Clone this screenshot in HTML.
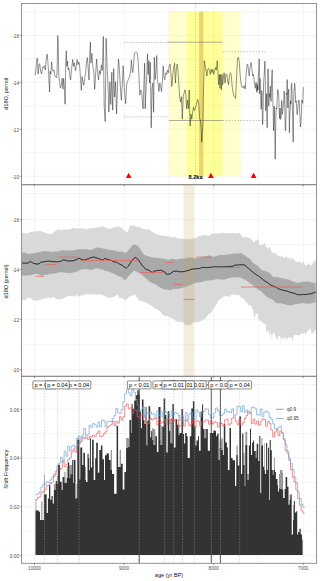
<!DOCTYPE html><html><head><meta charset="utf-8"><style>html,body{margin:0;padding:0;background:#fff;width:320px;height:581px;overflow:hidden}svg{display:block}</style></head><body><svg width="320" height="581" viewBox="0 0 320 581">
<rect width="320" height="581" fill="#fff"/>
<line x1="34.50" y1="3.5" x2="34.50" y2="184.7" stroke="#ececec" stroke-width="0.6"/>
<line x1="79.40" y1="3.5" x2="79.40" y2="184.7" stroke="#ececec" stroke-width="0.6"/>
<line x1="124.20" y1="3.5" x2="124.20" y2="184.7" stroke="#ececec" stroke-width="0.6"/>
<line x1="169.10" y1="3.5" x2="169.10" y2="184.7" stroke="#ececec" stroke-width="0.6"/>
<line x1="213.70" y1="3.5" x2="213.70" y2="184.7" stroke="#ececec" stroke-width="0.6"/>
<line x1="258.40" y1="3.5" x2="258.40" y2="184.7" stroke="#ececec" stroke-width="0.6"/>
<line x1="303.20" y1="3.5" x2="303.20" y2="184.7" stroke="#ececec" stroke-width="0.6"/>
<line x1="21.5" y1="11.70" x2="316.5" y2="11.70" stroke="#ececec" stroke-width="0.6"/>
<line x1="21.5" y1="35.50" x2="316.5" y2="35.50" stroke="#ececec" stroke-width="0.6"/>
<line x1="21.5" y1="58.95" x2="316.5" y2="58.95" stroke="#ececec" stroke-width="0.6"/>
<line x1="21.5" y1="82.40" x2="316.5" y2="82.40" stroke="#ececec" stroke-width="0.6"/>
<line x1="21.5" y1="105.85" x2="316.5" y2="105.85" stroke="#ececec" stroke-width="0.6"/>
<line x1="21.5" y1="129.30" x2="316.5" y2="129.30" stroke="#ececec" stroke-width="0.6"/>
<line x1="21.5" y1="152.75" x2="316.5" y2="152.75" stroke="#ececec" stroke-width="0.6"/>
<line x1="21.5" y1="176.20" x2="316.5" y2="176.20" stroke="#ececec" stroke-width="0.6"/>
<rect x="168.9" y="11.7" width="71.8" height="164.5" fill="#ffff00" fill-opacity="0.2"/>
<rect x="186.9" y="11.7" width="35.6" height="164.5" fill="#ffff00" fill-opacity="0.25"/>
<rect x="199.1" y="11.7" width="4.2" height="164.5" fill="#e8d468"/>
<line x1="195.6" y1="3.5" x2="195.6" y2="184.5" stroke="#aaa" stroke-width="0.5" stroke-dasharray="1.5,1.5"/>
<line x1="124.2" y1="42.5" x2="168.9" y2="42.5" stroke="#888" stroke-width="0.5" stroke-dasharray="1.5,1.5"/>
<line x1="124.2" y1="116.8" x2="168.9" y2="116.8" stroke="#888" stroke-width="0.5" stroke-dasharray="1.5,1.5"/>
<line x1="167.8" y1="42.2" x2="222.5" y2="42.2" stroke="#777" stroke-width="0.6"/>
<line x1="168.9" y1="120.5" x2="222.5" y2="120.5" stroke="#777" stroke-width="0.6"/>
<line x1="222.5" y1="51.75" x2="267" y2="51.75" stroke="#888" stroke-width="0.5" stroke-dasharray="1.5,1.5"/>
<line x1="222.5" y1="120.5" x2="267" y2="120.5" stroke="#888" stroke-width="0.5" stroke-dasharray="1.5,1.5"/>
<polyline fill="none" stroke="#111" stroke-width="0.45" stroke-linejoin="round" points="35.10,75.50 35.90,70.00 36.80,58.90 37.40,58.20 38.10,74.10 39.00,64.40 39.80,63.70 40.60,71.30 41.60,74.10 42.50,67.20 43.40,67.90 44.30,65.80 45.30,70.00 46.10,60.30 47.10,54.10 47.80,60.30 48.50,71.30 49.20,85.10 49.60,92.00 50.10,71.30 50.80,74.10 51.60,61.70 52.30,68.60 53.00,71.30 54.00,70.00 54.70,75.50 55.60,76.80 56.50,77.50 57.10,71.30 57.70,35.50 58.20,42.40 58.80,76.80 59.60,82.30 60.40,87.90 61.30,85.10 62.20,78.20 62.90,89.20 63.70,78.40 64.60,90.40 65.10,104.20 65.80,61.10 66.30,50.80 66.80,66.30 67.50,61.10 68.20,69.80 68.90,68.00 69.70,74.90 70.60,80.10 71.50,69.80 72.70,59.40 73.50,66.30 74.40,62.90 75.40,70.60 76.30,66.30 77.10,59.40 78.00,64.60 78.90,62.00 79.70,66.30 80.60,78.40 81.30,90.40 82.10,76.60 83.00,81.80 83.90,85.20 84.70,78.40 85.60,73.20 86.40,62.90 87.30,57.70 88.20,68.00 89.00,80.10 89.70,56.00 90.40,42.20 90.90,62.90 91.90,53.40 92.80,66.70 93.80,72.30 94.70,89.40 95.70,72.30 96.60,59.10 97.60,72.30 98.50,79.90 99.50,70.50 100.40,74.20 101.40,64.80 102.30,70.50 103.30,36.40 104.20,106.40 105.20,121.60 106.10,38.30 107.00,62.90 108.00,85.60 108.90,112.10 109.90,81.80 110.80,104.50 111.80,72.30 112.70,110.20 113.70,68.60 114.60,97.00 115.60,81.80 116.50,114.00 117.50,87.50 118.40,59.10 118.90,62.40 119.70,74.40 120.60,91.60 121.40,100.20 122.30,83.00 123.20,65.80 124.00,83.00 124.90,96.80 125.70,103.70 126.60,84.80 127.50,81.30 128.30,79.60 129.20,77.90 130.00,74.40 130.90,67.50 131.40,59.80 132.10,69.30 132.80,72.70 133.50,65.80 134.40,52.90 136.10,52.00 137.30,52.90 138.10,60.70 139.00,77.90 139.90,95.10 140.70,89.90 141.60,91.60 142.40,102.00 143.10,108.80 143.80,86.50 144.70,63.20 145.20,108.80 145.90,91.60 146.90,74.40 147.50,53.80 148.20,74.40 148.90,60.70 149.60,83.00 150.30,62.40 151.20,127.80 152.00,88.20 152.90,83.00 153.60,112.30 154.30,57.20 155.10,79.60 156.00,71.00 156.70,55.50 157.40,79.60 158.00,83.00 158.90,91.60 159.80,83.00 160.60,86.50 161.50,91.60 162.40,81.30 163.20,65.80 164.10,77.90 164.90,79.60 165.80,72.70 166.70,74.40 167.50,70.10 168.40,72.70 169.20,65.80 170.10,64.10 171.00,74.40 171.80,86.50 172.90,74.40 173.70,67.50 174.60,63.20 175.40,83.00 176.30,69.30 177.20,64.10 178.00,71.00 178.90,84.80 179.70,96.80 180.60,102.00 181.50,96.80 182.30,119.20 183.20,96.80 184.00,93.40 184.90,89.90 185.80,93.40 186.60,108.80 187.50,100.20 188.40,108.80 189.20,89.90 190.10,126.10 190.90,114.00 191.80,119.20 192.70,112.30 193.50,107.10 194.40,110.50 195.20,108.80 196.10,105.40 197.00,102.00 197.80,99.40 198.70,103.70 199.50,117.50 200.40,120.90 201.30,129.50 201.70,142.30 202.90,124.40 203.50,90.00 204.30,60.70 205.20,65.80 206.00,71.00 206.90,76.10 207.70,69.30 208.60,68.40 209.50,71.00 210.30,74.40 211.20,69.30 212.00,72.70 212.90,69.30 213.80,74.40 214.60,71.00 215.50,67.50 216.40,70.10 217.20,60.70 218.10,74.40 218.60,84.80 219.30,74.40 220.00,88.20 220.70,74.40 221.30,89.90 222.00,74.40 222.70,84.80 223.40,77.90 224.10,72.70 225.00,83.00 225.80,74.40 226.90,74.40 227.70,81.30 228.60,84.80 229.40,76.10 230.30,72.70 231.20,74.40 232.00,84.80 232.90,91.60 233.70,95.10 234.60,96.80 235.50,98.50 236.00,89.90 236.70,74.40 237.50,58.90 238.40,57.20 239.30,62.40 240.10,74.40 241.00,83.00 241.80,87.30 242.70,86.50 243.60,88.20 244.40,85.60 245.30,89.10 246.10,74.40 247.00,65.80 247.70,64.10 248.40,69.30 249.20,76.10 250.10,67.50 251.00,62.40 251.80,67.50 252.70,76.10 253.50,74.40 254.40,83.00 255.30,88.20 256.10,82.10 256.40,89.36 256.70,92.20 256.95,92.45 257.20,84.00 257.40,90.31 257.60,86.00 257.90,90.06 258.20,78.20 258.70,72.87 259.20,58.90 259.35,83.90 259.50,93.70 259.90,78.27 260.30,79.80 260.65,93.88 261.00,109.20 261.40,107.88 261.80,90.60 262.20,110.33 262.60,124.70 262.95,118.72 263.30,98.30 263.70,80.54 264.10,76.70 264.50,68.39 264.90,61.20 265.30,81.39 265.70,110.70 266.05,102.99 266.40,93.70 266.80,112.08 267.20,127.80 267.60,89.59 268.00,68.90 268.40,82.40 268.80,106.10 269.15,95.93 269.50,93.70 269.90,97.34 270.30,86.00 270.70,98.48 271.10,101.40 271.65,79.42 272.20,69.70 272.55,91.35 272.90,102.30 273.20,110.05 273.50,130.80 273.90,120.56 274.30,106.10 274.75,125.93 275.20,159.20 275.70,124.63 276.20,108.00 276.75,109.04 277.30,96.70 277.80,89.57 278.30,92.90 278.75,97.23 279.20,111.80 279.65,118.58 280.10,108.00 280.60,119.45 281.10,117.50 281.45,105.21 281.80,100.50 282.20,114.46 282.60,111.80 283.00,108.71 283.40,104.20 283.75,100.80 284.10,91.00 284.50,96.09 284.90,111.80 285.25,129.24 285.60,130.80 286.00,115.28 286.40,92.90 286.80,94.65 287.20,79.60 287.55,100.89 287.90,108.00 288.30,94.93 288.70,89.10 289.05,108.40 289.40,132.70 289.80,115.29 290.20,109.90 290.55,100.67 290.90,104.20 291.30,85.97 291.70,83.40 292.10,94.02 292.50,111.80 292.85,128.81 293.20,142.10 293.60,106.66 294.00,89.10 294.35,89.45 294.70,83.40 295.20,89.93 295.70,102.30 296.15,100.78 296.60,106.10 297.10,114.68 297.60,111.80 298.05,105.80 298.50,100.50 299.00,99.98 299.50,106.10 299.95,116.21 300.40,127.00 300.90,124.03 301.40,113.70 301.85,100.03 302.30,102.30 302.80,103.30 303.30,87.20"/>
<polygon points="128.7,172.75 125.8,177.9 131.6,177.9" fill="#ff0000"/>
<polygon points="210.9,172.75 208.0,177.9 213.8,177.9" fill="#ff0000"/>
<polygon points="253.6,172.75 250.7,177.9 256.5,177.9" fill="#ff0000"/>
<text x="195.5" y="179.3" font-family="Liberation Sans" font-weight="bold" font-size="5.6" text-anchor="middle" fill="#000">8.2ka</text>
<line x1="34.50" y1="184.7" x2="34.50" y2="376.3" stroke="#ececec" stroke-width="0.6"/>
<line x1="79.40" y1="184.7" x2="79.40" y2="376.3" stroke="#ececec" stroke-width="0.6"/>
<line x1="124.20" y1="184.7" x2="124.20" y2="376.3" stroke="#ececec" stroke-width="0.6"/>
<line x1="169.10" y1="184.7" x2="169.10" y2="376.3" stroke="#ececec" stroke-width="0.6"/>
<line x1="213.70" y1="184.7" x2="213.70" y2="376.3" stroke="#ececec" stroke-width="0.6"/>
<line x1="258.40" y1="184.7" x2="258.40" y2="376.3" stroke="#ececec" stroke-width="0.6"/>
<line x1="303.20" y1="184.7" x2="303.20" y2="376.3" stroke="#ececec" stroke-width="0.6"/>
<line x1="21.5" y1="193.50" x2="316.5" y2="193.50" stroke="#ececec" stroke-width="0.6"/>
<line x1="21.5" y1="219.60" x2="316.5" y2="219.60" stroke="#ececec" stroke-width="0.6"/>
<line x1="21.5" y1="244.62" x2="316.5" y2="244.62" stroke="#ececec" stroke-width="0.6"/>
<line x1="21.5" y1="269.64" x2="316.5" y2="269.64" stroke="#ececec" stroke-width="0.6"/>
<line x1="21.5" y1="294.66" x2="316.5" y2="294.66" stroke="#ececec" stroke-width="0.6"/>
<line x1="21.5" y1="319.68" x2="316.5" y2="319.68" stroke="#ececec" stroke-width="0.6"/>
<line x1="21.5" y1="344.70" x2="316.5" y2="344.70" stroke="#ececec" stroke-width="0.6"/>
<line x1="21.5" y1="369.72" x2="316.5" y2="369.72" stroke="#ececec" stroke-width="0.6"/>
<polygon points="22.0,233.3 22.7,233.1 23.4,232.5 24.1,233.0 24.8,232.8 25.5,233.4 26.2,233.6 26.9,233.6 27.6,233.3 28.3,233.2 29.0,232.8 29.7,232.2 30.4,232.1 31.1,232.1 31.8,231.6 32.5,231.5 33.2,231.7 33.9,231.4 34.6,231.8 35.3,231.4 36.0,231.2 36.7,231.2 37.4,231.2 38.1,231.2 38.8,231.3 39.5,231.1 40.2,230.9 40.9,231.2 41.6,230.9 42.3,231.8 43.0,232.1 43.7,232.3 44.4,232.3 45.1,232.7 45.8,233.0 46.5,232.8 47.2,233.4 47.9,233.7 48.6,233.6 49.3,233.8 50.0,234.6 50.7,234.1 51.4,233.8 52.1,233.7 52.8,233.0 53.5,232.2 54.2,232.3 54.9,231.4 55.6,230.6 56.3,230.7 57.0,229.8 57.7,229.5 58.4,229.7 59.1,229.7 59.8,229.4 60.5,230.0 61.2,230.0 61.9,229.9 62.6,229.6 63.3,229.7 64.0,229.2 64.7,229.4 65.4,229.4 66.1,229.9 66.8,229.2 67.5,229.8 68.2,229.3 68.9,229.6 69.6,229.4 70.3,229.2 71.0,229.2 71.7,228.7 72.4,228.3 73.1,228.0 73.8,227.9 74.5,228.5 75.2,228.3 75.9,228.6 76.6,228.5 77.3,228.0 78.0,228.6 78.7,228.8 79.4,228.7 80.1,228.5 80.8,228.4 81.5,228.5 82.2,228.8 82.9,228.4 83.6,228.6 84.3,228.5 85.0,229.0 85.7,229.0 86.4,229.2 87.1,229.2 87.8,228.7 88.5,228.5 89.2,228.6 89.9,228.3 90.6,228.3 91.3,228.3 92.0,228.4 92.7,228.0 93.4,228.1 94.1,227.5 94.8,227.7 95.5,228.1 96.2,227.4 96.9,227.6 97.6,227.2 98.3,227.0 99.0,227.4 99.7,227.2 100.4,226.8 101.1,226.2 101.8,226.3 102.5,226.1 103.2,226.7 103.9,227.0 104.6,227.2 105.3,227.5 106.0,227.5 106.7,228.2 107.4,228.8 108.1,229.0 108.8,228.4 109.5,228.6 110.2,228.7 110.9,228.1 111.6,228.4 112.3,227.8 113.0,227.8 113.7,227.3 114.4,227.6 115.1,227.2 115.8,226.9 116.5,226.5 117.2,226.7 117.9,226.3 118.6,226.7 119.3,226.9 120.0,226.7 120.7,227.4 121.4,227.9 122.1,228.3 122.8,229.0 123.5,229.7 124.2,229.9 124.9,230.2 125.6,231.5 126.3,231.9 127.0,232.8 127.7,231.3 128.4,229.9 129.1,228.5 129.8,226.6 130.5,225.5 131.2,225.2 131.9,225.5 132.6,225.8 133.3,225.6 134.0,225.2 134.7,225.8 135.4,226.5 136.1,226.8 136.8,226.7 137.5,226.9 138.2,226.3 138.9,227.2 139.6,227.2 140.3,227.4 141.0,228.0 141.7,228.3 142.4,228.0 143.1,228.9 143.8,229.2 144.5,229.1 145.2,229.6 145.9,229.4 146.6,229.0 147.3,229.5 148.0,228.9 148.7,229.3 149.4,229.7 150.1,230.1 150.8,230.9 151.5,231.4 152.2,231.7 152.9,232.7 153.6,232.4 154.3,232.7 155.0,233.5 155.7,234.0 156.4,234.1 157.1,234.4 157.8,234.4 158.5,234.8 159.2,234.7 159.9,234.9 160.6,235.4 161.3,235.2 162.0,235.4 162.7,236.0 163.4,235.5 164.1,236.0 164.8,236.0 165.5,235.7 166.2,235.9 166.9,236.2 167.6,236.6 168.3,236.3 169.0,236.6 169.7,237.1 170.4,237.4 171.1,237.2 171.8,236.9 172.5,237.3 173.2,237.5 173.9,237.0 174.6,237.1 175.3,237.2 176.0,237.5 176.7,238.1 177.4,237.9 178.1,238.4 178.8,238.4 179.5,238.6 180.2,239.0 180.9,238.3 181.6,238.9 182.3,238.5 183.0,238.8 183.7,239.0 184.4,239.0 185.1,238.9 185.8,239.4 186.5,238.8 187.2,239.2 187.9,239.0 188.6,239.1 189.3,239.3 190.0,239.3 190.7,239.1 191.4,238.6 192.1,238.4 192.8,238.4 193.5,238.1 194.2,238.0 194.9,238.4 195.6,237.6 196.3,237.9 197.0,237.2 197.7,236.9 198.4,236.5 199.1,236.0 199.8,236.1 200.5,235.7 201.2,235.7 201.9,235.4 202.6,235.6 203.3,235.4 204.0,234.9 204.7,234.9 205.4,235.4 206.1,235.2 206.8,235.3 207.5,235.6 208.2,235.8 208.9,236.1 209.6,235.3 210.3,234.7 211.0,234.4 211.7,233.3 212.4,233.7 213.1,233.5 213.8,233.2 214.5,233.5 215.2,233.1 215.9,233.7 216.6,233.8 217.3,233.5 218.0,233.5 218.7,233.6 219.4,233.2 220.1,233.1 220.8,233.0 221.5,232.9 222.2,232.8 222.9,233.1 223.6,232.7 224.3,233.1 225.0,233.3 225.7,233.1 226.4,233.1 227.1,232.9 227.8,233.5 228.5,233.0 229.2,233.1 229.9,233.5 230.6,232.9 231.3,233.5 232.0,232.9 232.7,232.8 233.4,233.1 234.1,233.1 234.8,233.6 235.5,233.5 236.2,233.4 236.9,233.1 237.6,233.2 238.3,232.9 239.0,233.4 239.7,233.0 240.4,233.5 241.1,234.9 241.8,235.4 242.5,236.6 243.2,238.3 243.9,237.2 244.6,237.0 245.3,236.8 246.0,236.6 246.7,237.1 247.4,237.4 248.1,238.0 248.8,238.3 249.5,238.8 250.2,236.5 250.9,239.8 251.6,240.8 252.3,238.6 253.0,242.3 253.7,242.3 254.4,242.3 255.1,240.0 255.8,240.8 256.5,240.4 257.2,238.3 257.9,241.1 258.6,239.4 259.3,244.8 260.0,245.3 260.7,245.3 261.4,243.9 262.1,245.7 262.8,242.1 263.5,246.3 264.2,242.6 264.9,243.0 265.6,246.8 266.3,247.1 267.0,247.3 267.7,248.1 268.4,247.5 269.1,249.5 269.8,246.6 270.5,246.9 271.2,251.8 271.9,252.1 272.6,252.6 273.3,253.9 274.0,253.5 274.7,252.2 275.4,254.8 276.1,251.6 276.8,254.9 277.5,255.4 278.2,256.1 278.9,255.6 279.6,256.0 280.3,256.5 281.0,256.5 281.7,255.2 282.4,257.2 283.1,256.7 283.8,257.6 284.5,257.3 285.2,256.8 285.9,257.7 286.6,254.5 287.3,258.1 288.0,258.6 288.7,257.0 289.4,259.2 290.1,258.6 290.8,258.5 291.5,259.0 292.2,258.6 292.9,257.2 293.6,259.5 294.3,260.5 295.0,260.5 295.7,261.7 296.4,262.0 297.1,261.9 297.8,261.9 298.5,261.9 299.2,261.7 299.9,262.0 300.6,262.3 301.3,262.7 302.0,263.1 302.7,263.3 303.4,260.0 304.1,262.7 304.8,265.1 305.5,265.1 306.2,265.2 306.9,265.9 307.6,263.7 308.3,262.8 309.0,263.9 309.7,265.1 310.4,265.0 311.1,264.9 311.8,264.7 312.5,264.3 313.2,259.7 313.9,262.7 314.6,262.1 315.3,259.5 316.0,261.2 316.0,330.3 315.3,329.8 314.6,330.1 313.9,332.7 313.2,333.7 312.5,331.9 311.8,334.0 311.1,331.2 310.4,328.8 309.7,328.6 309.0,331.3 308.3,329.2 307.6,329.9 306.9,334.0 306.2,331.0 305.5,336.1 304.8,332.7 304.1,332.6 303.4,333.7 302.7,333.6 302.0,334.0 301.3,333.7 300.6,334.3 299.9,335.3 299.2,335.4 298.5,335.4 297.8,335.1 297.1,335.1 296.4,335.2 295.7,334.7 295.0,334.6 294.3,335.0 293.6,335.9 292.9,339.6 292.2,342.0 291.5,337.1 290.8,337.3 290.1,337.1 289.4,338.9 288.7,336.2 288.0,338.6 287.3,338.8 286.6,340.3 285.9,336.5 285.2,337.2 284.5,339.1 283.8,339.1 283.1,338.2 282.4,337.5 281.7,337.1 281.0,342.5 280.3,336.4 279.6,336.3 278.9,335.8 278.2,335.9 277.5,340.7 276.8,336.7 276.1,339.7 275.4,335.3 274.7,334.4 274.0,333.1 273.3,332.8 272.6,333.5 271.9,339.5 271.2,333.7 270.5,334.4 269.8,332.2 269.1,336.7 268.4,331.0 267.7,329.5 267.0,333.2 266.3,331.3 265.6,324.4 264.9,324.2 264.2,323.2 263.5,323.7 262.8,322.9 262.1,322.0 261.4,321.5 260.7,320.4 260.0,321.3 259.3,317.9 258.6,322.1 257.9,314.2 257.2,313.8 256.5,313.7 255.8,312.9 255.1,316.9 254.4,318.2 253.7,316.1 253.0,308.4 252.3,309.8 251.6,305.8 250.9,307.1 250.2,305.2 249.5,305.1 248.8,305.1 248.1,304.4 247.4,303.1 246.7,303.0 246.0,302.1 245.3,300.9 244.6,300.1 243.9,298.7 243.2,298.4 242.5,298.5 241.8,298.1 241.1,297.6 240.4,296.7 239.7,295.6 239.0,295.1 238.3,294.5 237.6,294.5 236.9,294.5 236.2,295.8 235.5,295.0 234.8,294.6 234.1,294.6 233.4,294.6 232.7,294.6 232.0,295.0 231.3,295.1 230.6,295.8 229.9,296.2 229.2,296.6 228.5,296.9 227.8,296.5 227.1,296.0 226.4,295.7 225.7,296.1 225.0,296.5 224.3,296.4 223.6,296.8 222.9,297.3 222.2,297.5 221.5,298.5 220.8,298.4 220.1,299.1 219.4,299.4 218.7,299.9 218.0,301.5 217.3,303.1 216.6,304.5 215.9,305.2 215.2,306.6 214.5,307.0 213.8,308.7 213.1,309.4 212.4,310.5 211.7,311.6 211.0,313.1 210.3,313.9 209.6,314.2 208.9,314.3 208.2,314.3 207.5,315.7 206.8,316.6 206.1,317.5 205.4,318.5 204.7,319.1 204.0,319.5 203.3,320.0 202.6,320.0 201.9,320.2 201.2,321.2 200.5,320.9 199.8,321.6 199.1,322.1 198.4,321.8 197.7,322.4 197.0,322.5 196.3,322.0 195.6,322.2 194.9,322.1 194.2,322.0 193.5,322.2 192.8,322.8 192.1,323.1 191.4,324.0 190.7,324.6 190.0,325.3 189.3,325.1 188.6,324.7 187.9,325.3 187.2,325.3 186.5,325.4 185.8,324.9 185.1,324.4 184.4,323.6 183.7,322.4 183.0,322.5 182.3,321.7 181.6,322.3 180.9,322.2 180.2,321.5 179.5,321.9 178.8,321.6 178.1,321.6 177.4,322.0 176.7,321.7 176.0,321.5 175.3,320.6 174.6,319.8 173.9,319.4 173.2,318.9 172.5,318.6 171.8,318.1 171.1,318.3 170.4,318.0 169.7,317.3 169.0,316.8 168.3,316.8 167.6,315.7 166.9,315.6 166.2,316.1 165.5,315.9 164.8,315.8 164.1,315.8 163.4,314.6 162.7,314.5 162.0,313.8 161.3,313.0 160.6,312.0 159.9,311.5 159.2,310.8 158.5,310.1 157.8,309.9 157.1,309.3 156.4,308.7 155.7,308.8 155.0,308.5 154.3,308.3 153.6,307.6 152.9,307.1 152.2,306.1 151.5,305.2 150.8,305.5 150.1,305.4 149.4,304.8 148.7,304.2 148.0,303.7 147.3,303.3 146.6,302.8 145.9,302.6 145.2,302.3 144.5,302.4 143.8,301.5 143.1,301.8 142.4,301.3 141.7,301.1 141.0,300.8 140.3,300.8 139.6,300.8 138.9,299.9 138.2,299.6 137.5,298.5 136.8,297.6 136.1,296.6 135.4,295.1 134.7,294.3 134.0,294.2 133.3,295.6 132.6,295.8 131.9,295.6 131.2,295.9 130.5,296.4 129.8,296.3 129.1,296.8 128.4,297.4 127.7,298.6 127.0,298.9 126.3,299.4 125.6,300.1 124.9,300.2 124.2,298.9 123.5,298.2 122.8,298.7 122.1,298.3 121.4,298.1 120.7,297.9 120.0,297.9 119.3,297.7 118.6,296.4 117.9,294.8 117.2,294.7 116.5,295.0 115.8,296.0 115.1,296.2 114.4,296.5 113.7,296.9 113.0,296.9 112.3,297.0 111.6,297.2 110.9,297.6 110.2,298.2 109.5,298.1 108.8,297.6 108.1,297.3 107.4,297.0 106.7,297.2 106.0,296.7 105.3,296.2 104.6,295.6 103.9,295.8 103.2,295.2 102.5,294.2 101.8,294.5 101.1,294.2 100.4,294.2 99.7,293.6 99.0,294.4 98.3,294.4 97.6,294.6 96.9,294.5 96.2,294.4 95.5,294.5 94.8,293.9 94.1,294.4 93.4,293.8 92.7,293.9 92.0,294.5 91.3,293.9 90.6,293.9 89.9,293.8 89.2,294.3 88.5,293.7 87.8,293.5 87.1,293.9 86.4,293.7 85.7,294.3 85.0,294.6 84.3,294.7 83.6,295.0 82.9,295.3 82.2,295.3 81.5,295.6 80.8,295.4 80.1,296.0 79.4,296.2 78.7,296.5 78.0,295.9 77.3,294.7 76.6,294.6 75.9,295.5 75.2,296.0 74.5,296.7 73.8,296.2 73.1,296.5 72.4,296.2 71.7,295.8 71.0,295.8 70.3,295.9 69.6,295.8 68.9,296.2 68.2,296.2 67.5,296.3 66.8,296.5 66.1,297.1 65.4,297.6 64.7,297.6 64.0,298.3 63.3,298.5 62.6,298.7 61.9,298.7 61.2,298.8 60.5,299.3 59.8,299.6 59.1,299.4 58.4,299.0 57.7,299.2 57.0,299.0 56.3,299.1 55.6,298.8 54.9,298.1 54.2,297.0 53.5,297.1 52.8,297.3 52.1,297.7 51.4,297.5 50.7,298.2 50.0,298.1 49.3,297.4 48.6,297.6 47.9,297.7 47.2,297.7 46.5,297.8 45.8,298.5 45.1,298.4 44.4,298.6 43.7,299.0 43.0,299.0 42.3,299.3 41.6,299.3 40.9,300.2 40.2,300.2 39.5,299.7 38.8,300.4 38.1,300.5 37.4,300.7 36.7,300.7 36.0,300.2 35.3,300.8 34.6,300.6 33.9,300.4 33.2,300.3 32.5,299.9 31.8,298.8 31.1,298.4 30.4,297.7 29.7,297.7 29.0,297.9 28.3,298.2 27.6,297.8 26.9,298.4 26.2,299.4 25.5,300.0 24.8,300.0 24.1,300.5 23.4,299.9 22.7,300.3 22.0,300.6" fill="#d9d9d9"/>
<polygon points="22.0,252.9 22.8,252.6 23.6,252.4 24.4,252.8 25.2,252.6 26.0,252.8 26.8,253.5 27.6,253.5 28.4,254.0 29.2,253.7 30.0,253.8 30.8,253.6 31.6,253.5 32.4,253.4 33.2,253.2 34.0,252.9 34.8,252.8 35.6,253.0 36.4,252.8 37.2,252.7 38.0,252.2 38.8,252.2 39.6,252.1 40.4,251.8 41.2,251.7 42.0,251.4 42.8,251.3 43.6,251.3 44.4,251.0 45.2,251.4 46.0,251.4 46.8,251.0 47.6,251.5 48.4,251.6 49.2,251.6 50.0,251.4 50.8,251.9 51.6,251.6 52.4,252.0 53.2,251.9 54.0,251.5 54.8,251.5 55.6,251.6 56.4,251.5 57.2,251.5 58.0,251.5 58.8,251.1 59.6,250.8 60.4,251.0 61.2,250.3 62.0,250.5 62.8,249.8 63.6,250.2 64.4,250.3 65.2,250.4 66.0,250.3 66.8,250.6 67.6,250.3 68.4,250.6 69.2,250.5 70.0,250.7 70.8,250.6 71.6,250.4 72.4,250.4 73.2,250.1 74.0,250.1 74.8,250.3 75.6,250.1 76.4,250.1 77.2,249.7 78.0,249.3 78.8,249.2 79.6,249.3 80.4,249.2 81.2,248.9 82.0,249.3 82.8,249.4 83.6,249.0 84.4,249.2 85.2,249.2 86.0,249.4 86.8,249.2 87.6,249.2 88.4,249.6 89.2,250.1 90.0,249.9 90.8,249.9 91.6,249.8 92.4,249.6 93.2,249.0 94.0,248.6 94.8,248.5 95.6,248.1 96.4,247.5 97.2,247.7 98.0,247.3 98.8,247.4 99.6,247.7 100.4,247.7 101.2,248.2 102.0,248.1 102.8,248.7 103.6,248.5 104.4,248.7 105.2,249.1 106.0,249.2 106.8,249.5 107.6,249.8 108.4,249.8 109.2,249.6 110.0,249.8 110.8,250.0 111.6,250.1 112.4,250.3 113.2,250.2 114.0,250.2 114.8,250.5 115.6,251.0 116.4,251.0 117.2,251.4 118.0,251.7 118.8,251.5 119.6,251.6 120.4,251.6 121.2,251.5 122.0,251.8 122.8,251.6 123.6,252.3 124.4,252.4 125.2,252.9 126.0,252.5 126.8,252.1 127.6,251.2 128.4,250.0 129.2,249.3 130.0,247.9 130.8,247.2 131.6,246.2 132.4,245.5 133.2,244.8 134.0,244.4 134.8,243.9 135.6,244.8 136.4,245.0 137.2,245.6 138.0,245.9 138.8,247.1 139.6,247.9 140.4,249.2 141.2,250.6 142.0,251.5 142.8,253.0 143.6,254.1 144.4,254.8 145.2,255.2 146.0,255.4 146.8,256.0 147.6,256.1 148.4,256.2 149.2,256.5 150.0,256.9 150.8,256.8 151.6,257.2 152.4,257.4 153.2,257.6 154.0,257.8 154.8,257.8 155.6,258.0 156.4,257.6 157.2,258.0 158.0,258.1 158.8,258.3 159.6,258.3 160.4,258.5 161.2,258.3 162.0,258.6 162.8,258.4 163.6,258.8 164.4,259.1 165.2,259.3 166.0,259.3 166.8,259.5 167.6,259.8 168.4,260.0 169.2,259.8 170.0,259.4 170.8,258.8 171.6,258.5 172.4,259.0 173.2,259.0 174.0,259.3 174.8,259.4 175.6,259.6 176.4,259.6 177.2,259.5 178.0,259.3 178.8,259.0 179.6,259.1 180.4,258.7 181.2,258.4 182.0,258.3 182.8,258.7 183.6,258.7 184.4,258.6 185.2,258.4 186.0,258.1 186.8,257.8 187.6,257.8 188.4,257.6 189.2,257.8 190.0,257.6 190.8,257.7 191.6,257.5 192.4,257.7 193.2,257.8 194.0,258.3 194.8,258.0 195.6,258.5 196.4,258.3 197.2,258.1 198.0,258.2 198.8,257.7 199.6,257.7 200.4,257.4 201.2,257.2 202.0,257.1 202.8,257.1 203.6,256.8 204.4,256.5 205.2,256.7 206.0,256.1 206.8,256.2 207.6,255.8 208.4,255.6 209.2,255.3 210.0,255.6 210.8,255.9 211.6,256.1 212.4,256.3 213.2,256.7 214.0,256.7 214.8,256.4 215.6,256.2 216.4,255.8 217.2,255.9 218.0,255.5 218.8,255.1 219.6,254.9 220.4,255.2 221.2,254.9 222.0,255.0 222.8,255.1 223.6,255.1 224.4,254.8 225.2,254.8 226.0,254.8 226.8,254.5 227.6,254.8 228.4,254.2 229.2,254.5 230.0,253.9 230.8,253.8 231.6,254.0 232.4,253.8 233.2,253.4 234.0,253.5 234.8,253.5 235.6,253.6 236.4,253.3 237.2,253.5 238.0,253.5 238.8,253.3 239.6,253.3 240.4,253.2 241.2,252.8 242.0,253.6 242.8,254.2 243.6,254.6 244.4,255.0 245.2,255.8 246.0,256.6 246.8,256.8 247.6,257.5 248.4,258.1 249.2,258.4 250.0,258.7 250.8,259.9 251.6,260.7 252.4,262.0 253.2,262.9 254.0,263.5 254.8,264.2 255.6,264.6 256.4,264.9 257.2,265.6 258.0,266.1 258.8,267.1 259.6,268.1 260.4,268.9 261.2,269.7 262.0,270.1 262.8,270.3 263.6,270.8 264.4,270.7 265.2,270.8 266.0,271.4 266.8,271.7 267.6,272.1 268.4,272.6 269.2,272.8 270.0,273.5 270.8,274.2 271.6,275.3 272.4,276.2 273.2,276.8 274.0,276.7 274.8,277.4 275.6,277.2 276.4,277.0 277.2,276.8 278.0,277.5 278.8,277.6 279.6,277.8 280.4,277.7 281.2,278.3 282.0,278.2 282.8,278.5 283.6,278.5 284.4,278.7 285.2,279.1 286.0,279.2 286.8,279.3 287.6,279.2 288.4,279.4 289.2,279.8 290.0,279.9 290.8,280.4 291.6,281.1 292.4,281.3 293.2,281.7 294.0,281.7 294.8,282.1 295.6,282.3 296.4,282.4 297.2,282.4 298.0,282.4 298.8,282.4 299.6,282.6 300.4,282.5 301.2,282.0 302.0,282.1 302.8,281.7 303.6,281.7 304.4,281.9 305.2,281.6 306.0,281.8 306.8,281.6 307.6,281.7 308.4,281.6 309.2,281.8 310.0,282.0 310.8,282.5 311.6,282.2 312.4,282.7 313.2,282.5 314.0,283.0 314.8,282.8 315.6,282.8 315.6,302.4 314.8,302.6 314.0,302.5 313.2,302.8 312.4,302.9 311.6,303.0 310.8,303.5 310.0,303.4 309.2,303.4 308.4,303.7 307.6,303.6 306.8,303.6 306.0,303.4 305.2,303.6 304.4,303.4 303.6,303.0 302.8,303.2 302.0,303.0 301.2,303.5 300.4,303.4 299.6,303.6 298.8,303.7 298.0,303.9 297.2,303.8 296.4,304.1 295.6,303.9 294.8,304.4 294.0,304.5 293.2,304.8 292.4,304.9 291.6,305.2 290.8,305.3 290.0,305.4 289.2,305.6 288.4,305.2 287.6,305.0 286.8,304.8 286.0,304.6 285.2,304.4 284.4,304.3 283.6,304.0 282.8,303.8 282.0,303.7 281.2,303.3 280.4,303.0 279.6,303.4 278.8,303.3 278.0,303.4 277.2,303.0 276.4,303.1 275.6,302.4 274.8,301.7 274.0,300.9 273.2,300.2 272.4,299.6 271.6,299.2 270.8,298.8 270.0,298.5 269.2,297.9 268.4,297.7 267.6,297.2 266.8,296.9 266.0,296.0 265.2,295.3 264.4,294.5 263.6,293.8 262.8,292.7 262.0,292.0 261.2,291.5 260.4,291.1 259.6,290.3 258.8,290.1 258.0,289.4 257.2,289.0 256.4,288.0 255.6,287.4 254.8,287.1 254.0,286.5 253.2,285.4 252.4,284.7 251.6,284.4 250.8,283.5 250.0,283.3 249.2,282.5 248.4,282.0 247.6,281.6 246.8,280.8 246.0,280.6 245.2,279.8 244.4,279.4 243.6,279.2 242.8,278.4 242.0,278.2 241.2,277.8 240.4,277.4 239.6,277.6 238.8,277.3 238.0,277.1 237.2,277.0 236.4,277.2 235.6,277.4 234.8,277.2 234.0,277.4 233.2,277.3 232.4,277.6 231.6,277.6 230.8,277.8 230.0,277.7 229.2,278.1 228.4,278.1 227.6,278.7 226.8,278.6 226.0,279.0 225.2,279.6 224.4,279.6 223.6,279.9 222.8,279.7 222.0,279.6 221.2,279.3 220.4,279.6 219.6,279.4 218.8,279.2 218.0,278.8 217.2,278.9 216.4,279.2 215.6,279.3 214.8,279.4 214.0,279.9 213.2,279.8 212.4,280.1 211.6,280.4 210.8,280.2 210.0,280.6 209.2,280.2 208.4,280.2 207.6,280.5 206.8,280.7 206.0,280.7 205.2,280.7 204.4,281.2 203.6,281.0 202.8,281.6 202.0,281.9 201.2,282.1 200.4,282.2 199.6,281.9 198.8,282.3 198.0,282.6 197.2,282.7 196.4,282.6 195.6,282.7 194.8,283.2 194.0,283.4 193.2,283.5 192.4,284.0 191.6,284.4 190.8,284.8 190.0,285.1 189.2,285.3 188.4,286.0 187.6,286.3 186.8,286.4 186.0,286.7 185.2,287.1 184.4,287.3 183.6,287.1 182.8,287.7 182.0,287.7 181.2,287.9 180.4,288.5 179.6,288.5 178.8,288.6 178.0,288.9 177.2,288.8 176.4,288.9 175.6,288.9 174.8,288.9 174.0,288.9 173.2,289.1 172.4,288.9 171.6,289.5 170.8,290.0 170.0,290.3 169.2,290.0 168.4,289.8 167.6,289.6 166.8,289.8 166.0,289.7 165.2,289.4 164.4,289.3 163.6,289.2 162.8,288.7 162.0,288.3 161.2,288.0 160.4,287.5 159.6,287.3 158.8,286.6 158.0,286.3 157.2,285.7 156.4,285.1 155.6,284.4 154.8,284.0 154.0,283.6 153.2,283.6 152.4,282.9 151.6,282.7 150.8,282.3 150.0,282.2 149.2,281.6 148.4,280.6 147.6,280.1 146.8,279.1 146.0,278.7 145.2,278.0 144.4,277.1 143.6,276.4 142.8,275.8 142.0,274.9 141.2,274.4 140.4,273.6 139.6,273.2 138.8,273.0 138.0,272.3 137.2,271.9 136.4,271.5 135.6,271.3 134.8,270.4 134.0,270.7 133.2,271.5 132.4,272.3 131.6,272.7 130.8,273.9 130.0,274.5 129.2,275.4 128.4,276.3 127.6,277.2 126.8,278.5 126.0,279.3 125.2,280.1 124.4,280.1 123.6,279.4 122.8,278.3 122.0,277.4 121.2,277.1 120.4,276.5 119.6,276.3 118.8,276.2 118.0,275.9 117.2,275.3 116.4,275.0 115.6,274.4 114.8,274.1 114.0,273.9 113.2,273.6 112.4,273.0 111.6,272.8 110.8,272.5 110.0,272.0 109.2,271.7 108.4,271.6 107.6,271.2 106.8,271.2 106.0,270.7 105.2,270.7 104.4,270.7 103.6,270.0 102.8,269.9 102.0,269.6 101.2,269.4 100.4,269.0 99.6,269.2 98.8,268.6 98.0,268.6 97.2,268.5 96.4,268.4 95.6,268.6 94.8,268.7 94.0,269.0 93.2,269.3 92.4,269.7 91.6,269.9 90.8,269.9 90.0,269.8 89.2,269.7 88.4,269.3 87.6,269.3 86.8,269.3 86.0,269.1 85.2,269.3 84.4,269.3 83.6,269.1 82.8,269.1 82.0,269.5 81.2,269.5 80.4,269.8 79.6,270.1 78.8,270.4 78.0,271.0 77.2,271.4 76.4,271.7 75.6,271.6 74.8,272.1 74.0,272.4 73.2,272.5 72.4,272.6 71.6,273.0 70.8,273.1 70.0,272.8 69.2,272.9 68.4,272.9 67.6,273.0 66.8,272.9 66.0,272.7 65.2,272.7 64.4,272.6 63.6,272.3 62.8,272.5 62.0,272.4 61.2,272.3 60.4,272.0 59.6,272.2 58.8,272.4 58.0,272.7 57.2,272.8 56.4,273.1 55.6,273.1 54.8,273.5 54.0,273.4 53.2,273.7 52.4,273.8 51.6,273.9 50.8,273.6 50.0,274.0 49.2,274.2 48.4,274.4 47.6,274.5 46.8,275.0 46.0,274.8 45.2,275.1 44.4,275.1 43.6,275.2 42.8,275.3 42.0,275.4 41.2,275.2 40.4,275.2 39.6,274.9 38.8,274.4 38.0,274.0 37.2,273.8 36.4,273.7 35.6,273.9 34.8,274.3 34.0,274.5 33.2,274.4 32.4,274.4 31.6,274.8 30.8,274.9 30.0,275.2 29.2,275.4 28.4,275.3 27.6,275.3 26.8,275.6 26.0,275.6 25.2,275.7 24.4,275.5 23.6,275.4 22.8,275.7 22.0,275.4" fill="#a9a9a9"/>
<rect x="183.5" y="184.5" width="10.9" height="191.8" fill="#c8a050" fill-opacity="0.2"/>
<polyline fill="none" stroke="#000" stroke-width="0.85" stroke-linejoin="round" points="22.0,263.0 22.7,263.1 23.4,262.9 24.1,263.1 24.8,263.0 25.5,263.0 26.2,263.2 26.9,263.4 27.6,263.0 28.3,262.9 29.0,262.4 29.7,262.0 30.4,261.5 31.1,261.9 31.8,262.3 32.5,262.7 33.2,263.3 33.9,263.5 34.6,263.5 35.3,263.8 36.0,263.9 36.7,264.0 37.4,264.0 38.1,264.0 38.8,263.8 39.5,263.4 40.2,262.9 40.9,262.3 41.6,262.0 42.3,262.1 43.0,261.8 43.7,261.8 44.4,261.8 45.1,261.5 45.8,261.4 46.5,261.5 47.2,261.3 47.9,261.0 48.6,261.0 49.3,261.1 50.0,261.2 50.7,261.4 51.4,261.5 52.1,261.5 52.8,261.6 53.5,261.6 54.2,261.6 54.9,261.7 55.6,261.8 56.3,261.7 57.0,261.8 57.7,261.8 58.4,261.7 59.1,261.6 59.8,261.4 60.5,261.3 61.2,260.9 61.9,260.5 62.6,260.2 63.3,260.0 64.0,259.8 64.7,260.0 65.4,260.3 66.1,260.4 66.8,260.7 67.5,260.9 68.2,261.0 68.9,261.0 69.6,260.8 70.3,261.0 71.0,261.0 71.7,260.8 72.4,260.9 73.1,260.8 73.8,260.5 74.5,260.3 75.2,260.1 75.9,259.9 76.6,259.5 77.3,259.0 78.0,258.7 78.7,258.6 79.4,258.4 80.1,258.6 80.8,259.0 81.5,259.4 82.2,259.4 82.9,259.8 83.6,260.0 84.3,260.0 85.0,260.0 85.7,259.6 86.4,259.4 87.1,259.1 87.8,258.8 88.5,258.7 89.2,258.3 89.9,258.0 90.6,257.8 91.3,257.6 92.0,257.5 92.7,257.3 93.4,257.0 94.1,256.9 94.8,257.4 95.5,257.7 96.2,257.8 96.9,258.1 97.6,258.2 98.3,258.4 99.0,258.6 99.7,258.9 100.4,259.2 101.1,259.6 101.8,260.0 102.5,260.3 103.2,259.6 103.9,259.3 104.6,258.7 105.3,258.4 106.0,258.8 106.7,259.1 107.4,259.4 108.1,259.7 108.8,259.8 109.5,259.9 110.2,260.1 110.9,260.3 111.6,260.5 112.3,260.9 113.0,261.4 113.7,261.6 114.4,261.9 115.1,262.0 115.8,262.2 116.5,262.2 117.2,262.6 117.9,263.1 118.6,263.6 119.3,263.9 120.0,264.3 120.7,264.7 121.4,265.0 122.1,265.3 122.8,265.6 123.5,266.2 124.2,266.8 124.9,267.3 125.6,268.0 126.3,268.0 127.0,267.4 127.7,266.7 128.4,266.0 129.1,264.9 129.8,263.8 130.5,262.7 131.2,261.6 131.9,260.5 132.6,259.6 133.3,259.0 134.0,258.5 134.7,258.0 135.4,257.3 136.1,257.9 136.8,258.5 137.5,258.9 138.2,259.5 138.9,260.4 139.6,261.6 140.3,262.8 141.0,263.7 141.7,264.8 142.4,265.7 143.1,266.3 143.8,267.0 144.5,267.9 145.2,268.7 145.9,269.2 146.6,269.6 147.3,269.7 148.0,269.9 148.7,270.1 149.4,270.4 150.1,271.1 150.8,271.7 151.5,272.1 152.2,272.7 152.9,272.0 153.6,271.6 154.3,271.2 155.0,271.0 155.7,270.8 156.4,270.8 157.1,270.6 157.8,270.5 158.5,270.5 159.2,270.4 159.9,270.4 160.6,270.2 161.3,270.5 162.0,270.9 162.7,271.1 163.4,271.3 164.1,271.6 164.8,272.1 165.5,273.2 166.2,274.1 166.9,274.1 167.6,274.3 168.3,274.2 169.0,274.0 169.7,273.9 170.4,273.6 171.1,273.0 171.8,272.5 172.5,272.1 173.2,271.6 173.9,271.3 174.6,271.2 175.3,271.3 176.0,271.1 176.7,271.1 177.4,271.3 178.1,271.4 178.8,271.6 179.5,271.7 180.2,271.8 180.9,271.8 181.6,271.8 182.3,271.6 183.0,271.7 183.7,271.6 184.4,271.5 185.1,271.2 185.8,270.9 186.5,270.9 187.2,270.7 187.9,270.6 188.6,270.5 189.3,270.3 190.0,269.9 190.7,269.4 191.4,269.3 192.1,269.2 192.8,268.9 193.5,269.0 194.2,268.9 194.9,268.8 195.6,268.6 196.3,268.7 197.0,268.7 197.7,268.7 198.4,268.6 199.1,268.7 199.8,268.4 200.5,268.0 201.2,267.8 201.9,267.6 202.6,267.2 203.3,267.5 204.0,267.4 204.7,267.4 205.4,267.5 206.1,267.6 206.8,267.6 207.5,267.6 208.2,267.4 208.9,267.5 209.6,267.4 210.3,267.3 211.0,267.1 211.7,267.1 212.4,267.1 213.1,267.1 213.8,267.1 214.5,266.8 215.2,266.7 215.9,266.5 216.6,266.8 217.3,266.9 218.0,267.0 218.7,267.0 219.4,266.8 220.1,266.7 220.8,266.7 221.5,266.8 222.2,266.9 222.9,266.9 223.6,266.9 224.3,266.7 225.0,266.7 225.7,266.8 226.4,266.7 227.1,266.7 227.8,266.7 228.5,266.5 229.2,266.5 229.9,266.5 230.6,266.4 231.3,266.5 232.0,266.2 232.7,266.3 233.4,265.9 234.1,265.6 234.8,265.2 235.5,265.0 236.2,265.1 236.9,264.9 237.6,265.0 238.3,265.0 239.0,264.9 239.7,264.8 240.4,264.8 241.1,264.6 241.8,264.9 242.5,264.9 243.2,264.8 243.9,264.8 244.6,265.0 245.3,265.5 246.0,266.1 246.7,266.9 247.4,267.6 248.1,268.1 248.8,268.5 249.5,269.2 250.2,269.9 250.9,270.5 251.6,271.0 252.3,271.8 253.0,272.3 253.7,272.8 254.4,273.4 255.1,273.9 255.8,274.3 256.5,274.8 257.2,275.3 257.9,275.6 258.6,276.2 259.3,276.6 260.0,277.1 260.7,277.6 261.4,278.2 262.1,279.0 262.8,279.5 263.5,280.1 264.2,280.7 264.9,281.1 265.6,281.4 266.3,281.9 267.0,282.1 267.7,282.9 268.4,283.3 269.1,283.8 269.8,284.4 270.5,285.0 271.2,285.2 271.9,285.5 272.6,285.9 273.3,286.2 274.0,286.2 274.7,286.7 275.4,286.9 276.1,287.4 276.8,287.7 277.5,288.2 278.2,288.6 278.9,289.1 279.6,289.2 280.3,289.4 281.0,289.6 281.7,290.0 282.4,290.1 283.1,290.3 283.8,290.3 284.5,290.6 285.2,290.8 285.9,290.8 286.6,291.0 287.3,291.1 288.0,291.4 288.7,291.8 289.4,292.0 290.1,292.3 290.8,292.7 291.5,292.6 292.2,292.9 292.9,293.1 293.6,293.1 294.3,293.3 295.0,293.5 295.7,293.9 296.4,294.3 297.1,294.5 297.8,294.6 298.5,294.7 299.2,294.7 299.9,294.8 300.6,294.7 301.3,294.7 302.0,294.7 302.7,294.5 303.4,294.6 304.1,294.6 304.8,294.5 305.5,294.4 306.2,294.6 306.9,294.4 307.6,294.3 308.3,294.2 309.0,294.0 309.7,293.8 310.4,293.8 311.1,293.9 311.8,293.5 312.5,293.2 313.2,293.0 313.9,292.6 314.6,292.7 315.3,292.4 316.0,292.3"/>
<line x1="35.6" y1="276.3" x2="44.4" y2="276.3" stroke="#e8605a" stroke-width="0.7"/>
<line x1="45" y1="264.6" x2="57" y2="264.6" stroke="#e8605a" stroke-width="0.7"/>
<line x1="58" y1="257.1" x2="78.7" y2="257.1" stroke="#e8605a" stroke-width="0.7"/>
<line x1="81" y1="260.5" x2="137.5" y2="260.5" stroke="#e8605a" stroke-width="0.7"/>
<line x1="139.7" y1="272.5" x2="163" y2="272.5" stroke="#e8605a" stroke-width="0.7"/>
<line x1="165.6" y1="262.5" x2="174" y2="262.5" stroke="#e8605a" stroke-width="0.7"/>
<line x1="174" y1="284.4" x2="182.5" y2="284.4" stroke="#e8605a" stroke-width="0.7"/>
<line x1="183.4" y1="299.4" x2="194.4" y2="299.4" stroke="#e8605a" stroke-width="0.7"/>
<line x1="196" y1="257.1" x2="211" y2="257.1" stroke="#e8605a" stroke-width="0.7"/>
<line x1="213" y1="267.5" x2="240" y2="267.5" stroke="#e8605a" stroke-width="0.7"/>
<line x1="241" y1="287" x2="302.4" y2="287" stroke="#e8605a" stroke-width="0.7"/>
<line x1="34.50" y1="376.3" x2="34.50" y2="563.3" stroke="#ececec" stroke-width="0.6"/>
<line x1="79.40" y1="376.3" x2="79.40" y2="563.3" stroke="#ececec" stroke-width="0.6"/>
<line x1="124.20" y1="376.3" x2="124.20" y2="563.3" stroke="#ececec" stroke-width="0.6"/>
<line x1="169.10" y1="376.3" x2="169.10" y2="563.3" stroke="#ececec" stroke-width="0.6"/>
<line x1="213.70" y1="376.3" x2="213.70" y2="563.3" stroke="#ececec" stroke-width="0.6"/>
<line x1="258.40" y1="376.3" x2="258.40" y2="563.3" stroke="#ececec" stroke-width="0.6"/>
<line x1="303.20" y1="376.3" x2="303.20" y2="563.3" stroke="#ececec" stroke-width="0.6"/>
<line x1="21.5" y1="555.30" x2="316.5" y2="555.30" stroke="#ececec" stroke-width="0.6"/>
<line x1="21.5" y1="530.93" x2="316.5" y2="530.93" stroke="#ececec" stroke-width="0.6"/>
<line x1="21.5" y1="506.56" x2="316.5" y2="506.56" stroke="#ececec" stroke-width="0.6"/>
<line x1="21.5" y1="482.19" x2="316.5" y2="482.19" stroke="#ececec" stroke-width="0.6"/>
<line x1="21.5" y1="457.82" x2="316.5" y2="457.82" stroke="#ececec" stroke-width="0.6"/>
<line x1="21.5" y1="433.45" x2="316.5" y2="433.45" stroke="#ececec" stroke-width="0.6"/>
<line x1="21.5" y1="409.08" x2="316.5" y2="409.08" stroke="#ececec" stroke-width="0.6"/>
<line x1="21.5" y1="384.50" x2="316.5" y2="384.50" stroke="#ececec" stroke-width="0.6"/>
<path d="M35.60,555.0V499.80H36.40V555.0ZM41.20,555.0V501.60H42.40V555.0ZM43.90,555.0V474.50H44.80V555.0ZM53.90,555.0V484.00H55.70V555.0ZM56.90,555.0V475.70H58.10V555.0ZM64.40,555.0V472.00H65.60V555.0ZM66.80,555.0V466.00H68.00V555.0ZM69.20,555.0V465.00H70.40V555.0ZM70.40,555.0V465.00H72.20V555.0ZM76.50,555.0V484.00H77.40V555.0ZM77.40,555.0V438.20H79.30V555.0ZM85.00,555.0V467.00H86.00V555.0ZM110.70,555.0V450.00H112.00V555.0ZM119.60,555.0V450.00H121.00V555.0ZM126.10,555.0V438.00H128.20V555.0ZM128.20,555.0V438.50H129.40V555.0ZM152.20,555.0V428.00H153.20V555.0ZM153.20,555.0V429.00H155.30V555.0ZM160.50,555.0V440.00H161.10V555.0ZM161.10,555.0V425.80H162.30V555.0ZM170.30,555.0V418.50H172.40V555.0ZM178.60,555.0V415.50H179.40V555.0ZM204.20,555.0V429.00H206.20V555.0ZM219.70,555.0V440.40H221.20V555.0ZM221.20,555.0V438.30H222.80V555.0ZM236.40,555.0V445.60H237.70V555.0ZM243.40,555.0V453.00H244.60V555.0ZM245.40,555.0V431.80H247.20V555.0ZM247.20,555.0V474.00H248.90V555.0ZM255.70,555.0V451.00H256.70V555.0ZM261.30,555.0V438.00H262.40V555.0ZM264.20,555.0V443.00H264.90V555.0ZM272.80,555.0V470.00H273.90V555.0ZM273.90,555.0V457.50H274.90V555.0ZM277.00,555.0V479.00H278.00V555.0ZM279.00,555.0V474.00H280.00V555.0ZM280.00,555.0V470.00H282.40V555.0ZM282.40,555.0V472.60H283.10V555.0ZM289.70,555.0V494.50H290.40V555.0ZM293.00,555.0V505.00H293.90V555.0Z" fill="#333333" fill-opacity="0.5"/>
<path d="M35.60,555.0V510.60H36.40V510.60H38.80V511.80H40.00V520.00H41.20V520.00H42.40V520.00H43.90V495.00H44.80V494.30H46.60V513.00H47.90V498.50H49.00V485.30H50.30V499.80H51.50V496.00H52.70V503.40H53.90V490.00H55.70V481.00H56.90V484.00H58.10V464.80H59.90V481.70H61.70V490.00H62.60V477.00H63.40V477.00H64.40V483.00H65.60V483.00H66.80V478.00H68.00V462.50H69.20V478.00H70.40V474.30H72.20V460.00H73.40V483.00H74.00V460.00H75.50V498.70H76.50V498.00H77.40V440.00H79.30V479.50H80.30V447.50H82.20V465.00H83.40V452.70H85.00V480.00H86.00V482.00H87.50V453.70H88.60V458.30H89.20V470.00H89.90V438.20H90.90V467.60H92.10V439.70H93.70V480.00H95.20V458.30H96.20V442.80H97.80V472.70H99.30V450.00H100.90V445.40H102.40V459.30H104.00V480.00H105.00V455.20H106.60V453.10H107.20V453.40H108.90V460.00H110.70V470.00H112.00V474.00H114.10V493.80H116.60V425.80H118.10V467.00H119.60V467.00H121.00V463.70H122.70V489.50H124.40V472.00H126.10V448.00H128.20V447.00H129.40V420.00H131.10V433.00H131.60V404.00H132.60V408.70H134.20V400.50H135.70V395.30H137.30V390.20H138.80V394.30H139.90V411.80H140.90V428.30H141.90V399.40H143.50V420.00H144.50V424.00H145.60V406.90H146.50V445.50H147.30V420.80H148.60V406.30H150.20V437.30H151.20V431.00H152.20V440.00H153.20V445.00H155.30V436.20H156.90V452.00H158.40V406.90H160.50V445.00H161.10V445.00H162.30V426.80H163.60V398.50H165.20V415.00H166.40V452.60H167.70V411.30H169.30V431.00H170.30V443.30H172.40V404.10H173.90V447.40H175.50V419.00H177.00V424.70H178.60V435.00H179.40V433.40H180.00V433.10H181.50V408.90H183.10V434.00H184.10V443.50H185.20V433.00H186.70V436.20H187.70V458.00H189.80V436.20H191.30V408.40H192.90V401.20H194.40V426.00H195.50V445.50H196.50V440.40H198.00V436.20H199.00V450.70H200.60V411.50H202.10V404.30H203.10V429.00H204.20V438.30H206.20V429.00H207.80V450.70H209.90V433.10H213.50V430.60H215.00V431.00H216.00V436.20H217.10V433.70H218.60V460.00H219.70V448.00H221.20V450.00H222.80V455.00H223.80V423.90H225.30V442.40H226.90V447.60H227.90V470.00H229.50V428.00H231.00V458.00H232.60V460.20H235.00V486.00H236.40V455.00H237.70V465.40H239.30V416.50H241.00V474.00H242.20V433.60H243.40V465.00H244.60V486.00H245.40V445.00H247.20V480.00H248.90V445.60H250.00V428.80H251.00V455.00H252.10V442.70H253.10V440.60H254.10V451.00H255.70V458.00H256.70V443.70H258.20V461.00H259.30V436.00H260.30V493.00H261.30V445.70H262.40V445.00H263.00V466.80H264.20V470.00H264.90V474.00H266.10V443.00H267.20V470.00H268.00V447.70H269.00V500.00H269.70V440.00H270.80V450.30H271.80V470.00H272.80V475.00H273.90V470.00H274.90V472.00H275.90V479.00H277.00V485.00H278.00V491.50H279.00V488.50H280.00V489.00H282.40V490.00H283.10V498.00H284.60V489.00H285.60V477.00H287.20V486.80H288.50V504.80H289.70V500.00H290.40V494.50H291.70V534.50H293.00V520.00H293.90V501.00H294.90V512.60H296.20V511.30H297.20V534.50H298.10V532.00H299.40V528.70H300.70V534.50H302.00V539.70H302.60V555.0Z" fill="#333333"/>
<path d="M35.60,499.57H37.38V497.62H39.17V496.85H40.95V492.92H42.73V491.25H44.51V489.62H46.30V485.75H48.08V485.17H49.86V483.56H51.64V482.12H53.43V476.40H55.21V474.18H56.99V470.06H58.77V470.13H60.56V468.33H62.34V460.39H64.12V466.78H65.90V464.55H67.69V459.72H69.47V457.76H71.25V452.02H73.03V449.12H74.82V452.13H76.60V445.95H78.38V444.27H80.17V441.89H81.95V437.13H83.73V438.71H85.51V437.16H87.30V439.54H89.08V436.25H90.86V436.96H92.64V435.31H94.43V436.30H96.21V433.57H97.99V431.06H99.77V436.70H101.56V435.94H103.34V433.80H105.12V431.86H106.90V427.44H108.69V425.78H110.47V424.74H112.25V420.99H114.03V425.74H115.82V421.17H117.60V423.23H119.38V416.71H121.16V420.07H122.95V416.78H124.73V406.22H126.51V403.95H128.30V408.79H130.08V407.68H131.86V413.49H133.64V409.97H135.43V410.02H137.21V416.53H138.99V418.47H140.77V415.06H142.56V414.63H144.34V417.99H146.12V424.41H147.90V423.30H149.69V418.28H151.47V419.78H153.25V418.56H155.03V418.29H156.82V425.02H158.60V419.54H160.38V423.00H162.16V421.90H163.95V419.49H165.73V424.27H167.51V418.76H169.30V423.30H171.08V418.63H172.86V421.44H174.64V419.64H176.43V420.22H178.21V426.60H179.99V425.17H181.77V420.74H183.56V426.04H185.34V420.05H187.12V421.77H188.90V425.98H190.69V424.14H192.47V419.34H194.25V427.42H196.03V420.62H197.82V421.22H199.60V426.04H201.38V422.23H203.16V422.13H204.95V420.01H206.73V419.97H208.51V424.21H210.29V420.96H212.08V424.00H213.86V421.85H215.64V422.58H217.43V427.13H219.21V422.85H220.99V423.67H222.77V426.30H224.56V419.98H226.34V419.08H228.12V425.22H229.90V423.75H231.69V417.99H233.47V416.80H235.25V421.26H237.03V424.41H238.82V419.05H240.60V425.25H242.38V422.83H244.16V418.59H245.95V415.57H247.73V411.33H249.51V412.51H251.29V423.44H253.08V419.08H254.86V424.17H256.64V421.03H258.43V425.22H260.21V421.80H261.99V418.74H263.77V419.50H265.56V426.23H267.34V421.33H269.12V423.66H270.90V429.92H272.69V436.91H274.47V432.09H276.25V429.46H278.03V435.64H279.82V431.25H281.60V432.92H283.38V440.01H285.16V450.29H286.95V453.35H288.73V460.34H290.51V469.47H292.29V476.91H294.08V482.01H295.86V489.93H297.64V498.53H299.42V504.98H301.21V510.75H302.99V513.20H304.77" fill="none" stroke="#ec5f5f" stroke-width="0.7"/>
<path d="M35.60,494.86H37.38V493.75H39.17V491.77H40.95V487.07H42.73V484.34H44.51V484.21H46.30V481.82H48.08V482.61H49.86V479.93H51.64V477.31H53.43V474.34H55.21V471.27H56.99V465.09H58.77V462.97H60.56V457.27H62.34V462.15H64.12V451.13H65.90V456.18H67.69V446.30H69.47V451.00H71.25V446.07H73.03V445.31H74.82V448.26H76.60V438.23H78.38V435.90H80.17V441.69H81.95V434.88H83.73V428.44H85.51V436.07H87.30V434.37H89.08V425.14H90.86V427.36H92.64V423.58H94.43V424.69H96.21V427.18H97.99V422.01H99.77V426.80H101.56V419.90H103.34V420.65H105.12V426.65H106.90V421.83H108.69V421.35H110.47V421.60H112.25V418.62H114.03V415.23H115.82V408.57H117.60V412.77H119.38V413.40H121.16V409.81H122.95V401.69H124.73V393.62H126.51V389.12H128.30V392.88H130.08V395.69H131.86V389.55H133.64V392.22H135.43V399.43H137.21V405.38H138.99V411.11H140.77V409.74H142.56V406.77H144.34V416.30H146.12V412.97H147.90V414.46H149.69V412.08H151.47V414.27H153.25V413.88H155.03V417.72H156.82V411.03H158.60V415.50H160.38V411.78H162.16V416.96H163.95V410.37H165.73V412.77H167.51V413.44H169.30V416.38H171.08V410.68H172.86V414.89H174.64V412.53H176.43V413.40H178.21V415.49H179.99V420.46H181.77V415.80H183.56V420.40H185.34V412.38H187.12V419.80H188.90V414.06H190.69V412.17H192.47V417.62H194.25V419.11H196.03V409.86H197.82V412.29H199.60V417.12H201.38V412.64H203.16V411.45H204.95V408.93H206.73V409.06H208.51V414.66H210.29V418.11H212.08V418.07H213.86V412.95H215.64V407.99H217.43V410.81H219.21V415.30H220.99V415.59H222.77V413.50H224.56V409.24H226.34V412.06H228.12V411.40H229.90V412.74H231.69V408.93H233.47V415.61H235.25V414.85H237.03V406.31H238.82V406.39H240.60V411.73H242.38V405.78H244.16V412.73H245.95V410.12H247.73V413.60H249.51V413.11H251.29V407.02H253.08V407.33H254.86V408.85H256.64V414.96H258.43V415.09H260.21V409.02H261.99V416.41H263.77V412.21H265.56V410.87H267.34V412.30H269.12V417.13H270.90V419.24H272.69V423.88H274.47V428.56H276.25V429.02H278.03V427.00H279.82V426.30H281.60V433.17H283.38V438.53H285.16V444.62H286.95V451.16H288.73V458.39H290.51V463.43H292.29V469.67H294.08V477.21H295.86V482.67H297.64V491.74H299.42V498.66H301.21V504.23H302.99V507.39H304.77" fill="none" stroke="#72a5d6" stroke-width="0.7"/>
<line x1="44.6" y1="376.3" x2="44.6" y2="563.3" stroke="#a8a8a8" stroke-width="0.45" stroke-dasharray="1.4,1.4"/>
<line x1="57.4" y1="376.3" x2="57.4" y2="563.3" stroke="#a8a8a8" stroke-width="0.45" stroke-dasharray="1.4,1.4"/>
<line x1="79" y1="376.3" x2="79" y2="563.3" stroke="#a8a8a8" stroke-width="0.45" stroke-dasharray="1.4,1.4"/>
<line x1="139.2" y1="376.3" x2="139.2" y2="563.3" stroke="#3a3a3a" stroke-width="0.9"/>
<line x1="139.2" y1="376.3" x2="139.2" y2="563.3" stroke="#a8a8a8" stroke-width="0.45" stroke-dasharray="1.4,1.4"/>
<line x1="164.7" y1="376.3" x2="164.7" y2="563.3" stroke="#a8a8a8" stroke-width="0.45" stroke-dasharray="1.4,1.4"/>
<line x1="173.75" y1="376.3" x2="173.75" y2="563.3" stroke="#a8a8a8" stroke-width="0.45" stroke-dasharray="1.4,1.4"/>
<line x1="182.5" y1="376.3" x2="182.5" y2="563.3" stroke="#a8a8a8" stroke-width="0.45" stroke-dasharray="1.4,1.4"/>
<line x1="194.4" y1="376.3" x2="194.4" y2="563.3" stroke="#a8a8a8" stroke-width="0.45" stroke-dasharray="1.4,1.4"/>
<line x1="211.3" y1="376.3" x2="211.3" y2="563.3" stroke="#3a3a3a" stroke-width="0.9"/>
<line x1="211.3" y1="376.3" x2="211.3" y2="563.3" stroke="#a8a8a8" stroke-width="0.45" stroke-dasharray="1.4,1.4"/>
<line x1="220.4" y1="376.3" x2="220.4" y2="563.3" stroke="#3a3a3a" stroke-width="0.9"/>
<line x1="220.4" y1="376.3" x2="220.4" y2="563.3" stroke="#a8a8a8" stroke-width="0.45" stroke-dasharray="1.4,1.4"/>
<line x1="239.7" y1="376.3" x2="239.7" y2="563.3" stroke="#a8a8a8" stroke-width="0.45" stroke-dasharray="1.4,1.4"/>
<line x1="276" y1="409.3" x2="283.5" y2="409.3" stroke="#ec5f5f" stroke-width="0.8"/>
<line x1="276" y1="418.6" x2="283.5" y2="418.6" stroke="#72a5d6" stroke-width="0.8"/>
<text x="287" y="411" font-family="Liberation Sans" font-size="4.6" fill="#333">q0.9</text>
<text x="287" y="420.3" font-family="Liberation Sans" font-size="4.6" fill="#333">q0.95</text>
<rect x="32.80" y="380.9" width="23.6" height="8" rx="0.8" fill="#fff" stroke="#333" stroke-width="0.55"/>
<text x="44.60" y="386.9" font-family="Liberation Sans" font-size="5.6" text-anchor="middle" fill="#000">p = 0.04</text>
<rect x="67.20" y="380.9" width="23.6" height="8" rx="0.8" fill="#fff" stroke="#333" stroke-width="0.55"/>
<text x="79.00" y="386.9" font-family="Liberation Sans" font-size="5.6" text-anchor="middle" fill="#000">p = 0.04</text>
<rect x="45.60" y="380.9" width="23.6" height="8" rx="0.8" fill="#fff" stroke="#333" stroke-width="0.55"/>
<text x="57.40" y="386.9" font-family="Liberation Sans" font-size="5.6" text-anchor="middle" fill="#000">p = 0.04</text>
<rect x="127.40" y="380.9" width="23.6" height="8" rx="0.8" fill="#fff" stroke="#333" stroke-width="0.55"/>
<text x="139.20" y="386.9" font-family="Liberation Sans" font-size="5.6" text-anchor="middle" fill="#000">p < 0.01</text>
<rect x="199.50" y="380.9" width="23.6" height="8" rx="0.8" fill="#fff" stroke="#333" stroke-width="0.55"/>
<text x="211.30" y="386.9" font-family="Liberation Sans" font-size="5.6" text-anchor="middle" fill="#000">p < 0.01</text>
<rect x="208.60" y="380.9" width="23.6" height="8" rx="0.8" fill="#fff" stroke="#333" stroke-width="0.55"/>
<text x="220.40" y="386.9" font-family="Liberation Sans" font-size="5.6" text-anchor="middle" fill="#000">p < 0.01</text>
<rect x="227.90" y="380.9" width="23.6" height="8" rx="0.8" fill="#fff" stroke="#333" stroke-width="0.55"/>
<text x="239.70" y="386.9" font-family="Liberation Sans" font-size="5.6" text-anchor="middle" fill="#000">p = 0.04</text>
<rect x="182.60" y="380.9" width="23.6" height="8" rx="0.8" fill="#fff" stroke="#333" stroke-width="0.55"/>
<text x="194.40" y="386.9" font-family="Liberation Sans" font-size="5.6" text-anchor="middle" fill="#000">p = 0.01</text>
<rect x="170.70" y="380.9" width="23.6" height="8" rx="0.8" fill="#fff" stroke="#333" stroke-width="0.55"/>
<text x="182.50" y="386.9" font-family="Liberation Sans" font-size="5.6" text-anchor="middle" fill="#000">p = 0.01</text>
<rect x="152.90" y="380.9" width="23.6" height="8" rx="0.8" fill="#fff" stroke="#333" stroke-width="0.55"/>
<text x="164.70" y="386.9" font-family="Liberation Sans" font-size="5.6" text-anchor="middle" fill="#000">p = 0.01</text>
<rect x="161.95" y="380.9" width="23.6" height="8" rx="0.8" fill="#fff" stroke="#333" stroke-width="0.55"/>
<text x="173.75" y="386.9" font-family="Liberation Sans" font-size="5.6" text-anchor="middle" fill="#000">p = 0.01</text>
<rect x="21.5" y="3.5" width="295.0" height="181.2" fill="none" stroke="#888" stroke-width="0.9"/>
<rect x="21.5" y="184.7" width="295.0" height="191.60000000000002" fill="none" stroke="#888" stroke-width="0.9"/>
<rect x="21.5" y="376.3" width="295.0" height="186.99999999999994" fill="none" stroke="#888" stroke-width="0.9"/>
<line x1="19.8" y1="35.50" x2="21.5" y2="35.50" stroke="#333" stroke-width="0.5"/>
<text x="19.2" y="37.80" font-family="Liberation Sans" font-size="4.8" text-anchor="end" fill="#4d4d4d">-16</text>
<line x1="19.8" y1="82.40" x2="21.5" y2="82.40" stroke="#333" stroke-width="0.5"/>
<text x="19.2" y="84.70" font-family="Liberation Sans" font-size="4.8" text-anchor="end" fill="#4d4d4d">-14</text>
<line x1="19.8" y1="129.30" x2="21.5" y2="129.30" stroke="#333" stroke-width="0.5"/>
<text x="19.2" y="131.60" font-family="Liberation Sans" font-size="4.8" text-anchor="end" fill="#4d4d4d">-12</text>
<line x1="19.8" y1="176.20" x2="21.5" y2="176.20" stroke="#333" stroke-width="0.5"/>
<text x="19.2" y="178.50" font-family="Liberation Sans" font-size="4.8" text-anchor="end" fill="#4d4d4d">-10</text>
<line x1="19.8" y1="219.60" x2="21.5" y2="219.60" stroke="#333" stroke-width="0.5"/>
<text x="19.2" y="221.90" font-family="Liberation Sans" font-size="4.8" text-anchor="end" fill="#4d4d4d">-16</text>
<line x1="19.8" y1="269.60" x2="21.5" y2="269.60" stroke="#333" stroke-width="0.5"/>
<text x="19.2" y="271.90" font-family="Liberation Sans" font-size="4.8" text-anchor="end" fill="#4d4d4d">-14</text>
<line x1="19.8" y1="319.60" x2="21.5" y2="319.60" stroke="#333" stroke-width="0.5"/>
<text x="19.2" y="321.90" font-family="Liberation Sans" font-size="4.8" text-anchor="end" fill="#4d4d4d">-12</text>
<line x1="19.8" y1="369.70" x2="21.5" y2="369.70" stroke="#333" stroke-width="0.5"/>
<text x="19.2" y="372.00" font-family="Liberation Sans" font-size="4.8" text-anchor="end" fill="#4d4d4d">-10</text>
<line x1="19.8" y1="409.40" x2="21.5" y2="409.40" stroke="#333" stroke-width="0.5"/>
<text x="19.2" y="411.70" font-family="Liberation Sans" font-size="4.8" text-anchor="end" fill="#4d4d4d">0.06</text>
<line x1="19.8" y1="458.10" x2="21.5" y2="458.10" stroke="#333" stroke-width="0.5"/>
<text x="19.2" y="460.40" font-family="Liberation Sans" font-size="4.8" text-anchor="end" fill="#4d4d4d">0.04</text>
<line x1="19.8" y1="506.80" x2="21.5" y2="506.80" stroke="#333" stroke-width="0.5"/>
<text x="19.2" y="509.10" font-family="Liberation Sans" font-size="4.8" text-anchor="end" fill="#4d4d4d">0.02</text>
<line x1="19.8" y1="555.30" x2="21.5" y2="555.30" stroke="#333" stroke-width="0.5"/>
<text x="19.2" y="557.60" font-family="Liberation Sans" font-size="4.8" text-anchor="end" fill="#4d4d4d">0.00</text>
<line x1="34.5" y1="184.7" x2="34.5" y2="186.29999999999998" stroke="#333" stroke-width="0.5"/>
<line x1="34.5" y1="376.3" x2="34.5" y2="377.90000000000003" stroke="#333" stroke-width="0.5"/>
<line x1="34.5" y1="563.3" x2="34.5" y2="564.9" stroke="#333" stroke-width="0.5"/>
<line x1="124.2" y1="184.7" x2="124.2" y2="186.29999999999998" stroke="#333" stroke-width="0.5"/>
<line x1="124.2" y1="376.3" x2="124.2" y2="377.90000000000003" stroke="#333" stroke-width="0.5"/>
<line x1="124.2" y1="563.3" x2="124.2" y2="564.9" stroke="#333" stroke-width="0.5"/>
<line x1="213.7" y1="184.7" x2="213.7" y2="186.29999999999998" stroke="#333" stroke-width="0.5"/>
<line x1="213.7" y1="376.3" x2="213.7" y2="377.90000000000003" stroke="#333" stroke-width="0.5"/>
<line x1="213.7" y1="563.3" x2="213.7" y2="564.9" stroke="#333" stroke-width="0.5"/>
<line x1="303.2" y1="184.7" x2="303.2" y2="186.29999999999998" stroke="#333" stroke-width="0.5"/>
<line x1="303.2" y1="376.3" x2="303.2" y2="377.90000000000003" stroke="#333" stroke-width="0.5"/>
<line x1="303.2" y1="563.3" x2="303.2" y2="564.9" stroke="#333" stroke-width="0.5"/>
<text x="34.5" y="570.1" font-family="Liberation Sans" font-size="4.6" text-anchor="middle" fill="#4d4d4d">10000</text>
<text x="124.2" y="570.1" font-family="Liberation Sans" font-size="4.6" text-anchor="middle" fill="#4d4d4d">9000</text>
<text x="213.7" y="570.1" font-family="Liberation Sans" font-size="4.6" text-anchor="middle" fill="#4d4d4d">8000</text>
<text x="303.2" y="570.1" font-family="Liberation Sans" font-size="4.6" text-anchor="middle" fill="#4d4d4d">7000</text>
<text x="169" y="576.9" font-family="Liberation Sans" font-size="5.6" text-anchor="middle" fill="#111">age (yr BP)</text>
<text transform="translate(7.8,93.8) rotate(-90)" font-family="Liberation Sans" font-size="5.6" text-anchor="middle" fill="#111">d18O, permil</text>
<text transform="translate(7.8,281.4) rotate(-90)" font-family="Liberation Sans" font-size="5.6" text-anchor="middle" fill="#111">d18O (permil)</text>
<text transform="translate(7.8,469.2) rotate(-90)" font-family="Liberation Sans" font-size="5.6" text-anchor="middle" fill="#111">Shift Frequency</text>
</svg></body></html>
